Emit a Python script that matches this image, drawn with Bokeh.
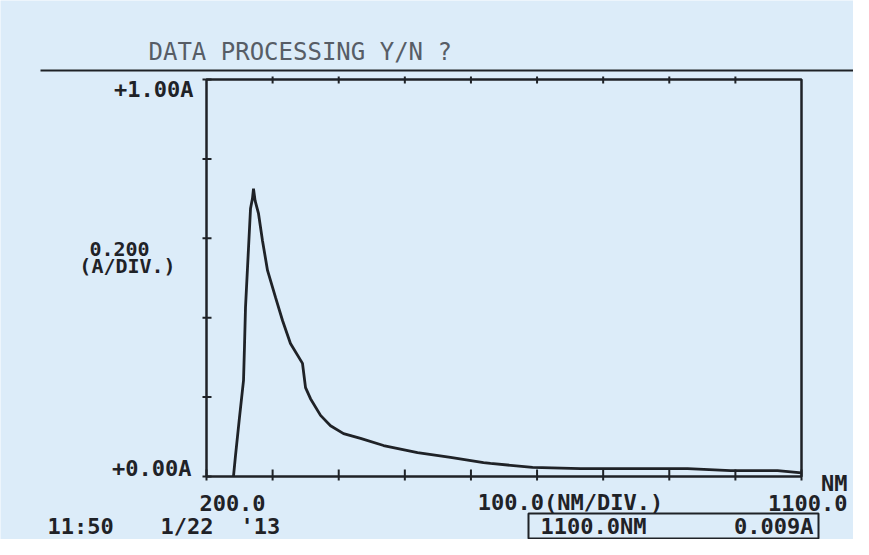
from bokeh.plotting import figure
from bokeh.models import Range1d, Label
from bokeh.embed import file_html
from bokeh.resources import INLINE

# ---- data ----
wavelength_nm = [240.8, 243.9, 249.9, 256.0, 257.5, 259.0, 263.5, 266.6, 269.5, 271.1,
                 273.5, 278.7, 284.7, 292.3, 304.4, 315.0, 327.0, 345.2, 349.8, 357.3,
                 372.5, 387.6, 407.3, 433.0, 467.8, 519.2, 569.1, 619.0, 629.6, 693.2,
                 765.8, 927.7, 992.7, 1063.8, 1100.0]
absorbance_A = [0.000, 0.053, 0.149, 0.242, 0.330, 0.426, 0.574, 0.675, 0.700, 0.725,
                0.695, 0.662, 0.594, 0.519, 0.451, 0.393, 0.335, 0.285, 0.224, 0.196,
                0.154, 0.128, 0.108, 0.096, 0.078, 0.060, 0.048, 0.035, 0.033, 0.023,
                0.020, 0.020, 0.015, 0.015, 0.009]
x_ticks = [200, 300, 400, 500, 600, 700, 800, 900, 1000, 1100]
y_ticks = [0.0, 0.2, 0.4, 0.6, 0.8, 1.0]

title_text = "DATA PROCESSING Y/N ?"
y_top_label = "+1.00A"
y_bottom_label = "+0.00A"
y_scale_label = "0.200"
y_scale_unit = "(A/DIV.)"
x_start_label = "200.0"
x_scale_label = "100.0(NM/DIV.)"
x_end_label = "1100.0"
x_unit_label = "NM"
time_label = "11:50"
date_label = "1/22"
year_label = "'13"
cursor_nm = "1100.0NM"
cursor_abs = "0.009A"

BG = "#dcecf9"
INK = "#1f2227"
TITLE_INK = "#575d66"
FONT = "DejaVu Sans Mono"
W, H = 853, 539

# plot box placement on the canvas (pixels)
BOX_L, BOX_R, BOX_T, BOX_B = 206, 801, 79, 476
x0, x1 = x_ticks[0], x_ticks[-1]
y0, y1 = y_ticks[0], y_ticks[-1]
NM_PER_PX = (x1 - x0) / (BOX_R - BOX_L)
A_PER_PX = (y1 - y0) / (BOX_B - BOX_T)


def X(px):
    return x0 + (px - BOX_L) * NM_PER_PX


def Y(py):
    return y0 + (BOX_B - py) * A_PER_PX


p = figure(width=W, height=H, x_range=Range1d(X(0), X(W)), y_range=Range1d(Y(H), Y(0)),
           output_backend="svg", toolbar_location=None, min_border=0,
           x_axis_type=None, y_axis_type=None,
           background_fill_color=BG, border_fill_color=BG)
p.grid.visible = False
p.outline_line_color = None

# frame of the recorder chart
p.quad(left=x0, right=x1, bottom=y0, top=y1, fill_color=None, line_color=INK, line_width=2.5)

# tick marks (from the tick lists)
p.segment(x0=[x0 - 4 * NM_PER_PX] * len(y_ticks), x1=[x0 + 5 * NM_PER_PX] * len(y_ticks),
          y0=y_ticks, y1=y_ticks, line_color=INK, line_width=2)
p.segment(x0=x_ticks, x1=x_ticks, y0=[y0 - 4 * A_PER_PX] * len(x_ticks),
          y1=[y0 + 7 * A_PER_PX] * len(x_ticks), line_color=INK, line_width=2)
p.segment(x0=x_ticks[1:-1], x1=x_ticks[1:-1], y0=[y1 - 4 * A_PER_PX] * (len(x_ticks) - 2),
          y1=[y1 + 3 * A_PER_PX] * (len(x_ticks) - 2), line_color=INK, line_width=2)

# spectrum trace
p.line(wavelength_nm, absorbance_A, line_color=INK, line_width=2.8)

# rule under the prompt line
p.segment(x0=[X(40)], x1=[X(W)], y0=[Y(70)], y1=[Y(70)], line_color=INK, line_width=2)

# read-out box
p.quad(left=[X(528)], right=[X(818)], top=[Y(513)], bottom=[Y(538)],
       fill_color=None, line_color=INK, line_width=2)


def lab(px, py, text, align="left", size="22px", color=INK, style="bold"):
    p.add_layout(Label(x=X(px), y=Y(py), text=text, text_align=align, text_baseline="middle",
                       text_font=FONT, text_font_size=size, text_color=color,
                       text_font_style=style))


lab(148, 51, title_text, "left", "24px", TITLE_INK, "normal")
lab(193, 89, y_top_label, "right")
lab(119, 248, y_scale_label, "center", "20px")
lab(127, 265, y_scale_unit, "center", "20px")
lab(191, 468, y_bottom_label, "right")
lab(232, 502, x_start_label, "center")
lab(570, 502, x_scale_label, "center")
lab(847, 502, x_end_label, "right")
lab(847, 483, x_unit_label, "right")
lab(47, 526, time_label, "left")
lab(160, 526, date_label, "left")
lab(240, 526, year_label, "left")
lab(540, 526, cursor_nm, "left")
lab(813, 526, cursor_abs, "right")

open("out.html", "w").write(file_html(p, INLINE))
